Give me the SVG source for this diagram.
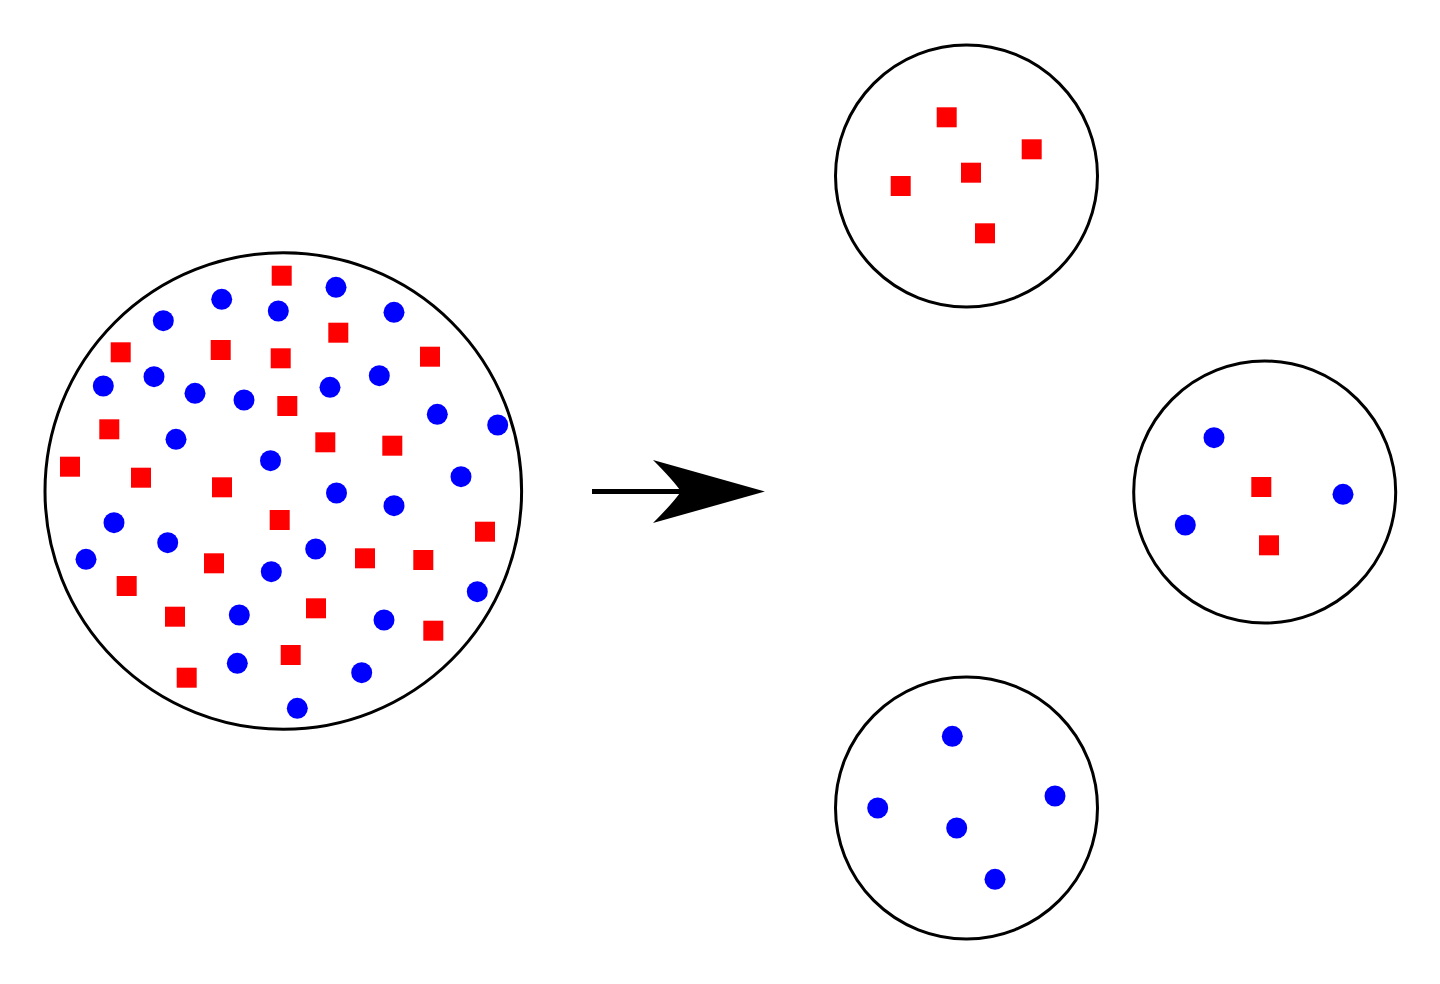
<svg xmlns="http://www.w3.org/2000/svg" width="1440" height="984" viewBox="0 0 1440 984">
<style>
.ring{fill:#fff;stroke:#000;stroke-width:3}
.sq{fill:#ff0000}
.dot{fill:#0000ff}
</style>
<defs>
<rect id="s" x="-10" y="-10" width="20" height="20" class="sq"/>
<circle id="d" r="10.5" class="dot"/>
</defs>
<rect width="1440" height="984" fill="#fff"/>
<g id="mixture">
<circle class="ring" cx="283.3" cy="491" r="238.3"/>
<use href="#s" x="281.7" y="275.7"/>
<use href="#d" x="221.7" y="299.3"/>
<use href="#d" x="278.3" y="311"/>
<use href="#d" x="163.3" y="320.7"/>
<use href="#d" x="336" y="287.3"/>
<use href="#d" x="394" y="312.3"/>
<use href="#s" x="338.3" y="332.7"/>
<use href="#s" x="120.7" y="352.3"/>
<use href="#s" x="220.7" y="350"/>
<use href="#s" x="280.7" y="358.3"/>
<use href="#s" x="430" y="356.7"/>
<use href="#d" x="103.3" y="386"/>
<use href="#d" x="154" y="376.7"/>
<use href="#d" x="195" y="393.3"/>
<use href="#d" x="244" y="400"/>
<use href="#d" x="379.3" y="375.7"/>
<use href="#d" x="330" y="387.3"/>
<use href="#s" x="287.3" y="406"/>
<use href="#d" x="437.3" y="414.3"/>
<use href="#d" x="497.7" y="425"/>
<use href="#s" x="109.3" y="429.3"/>
<use href="#d" x="176" y="439.3"/>
<use href="#s" x="325.3" y="442.3"/>
<use href="#s" x="392.3" y="445.7"/>
<use href="#d" x="270.5" y="460.7"/>
<use href="#s" x="70" y="466.7"/>
<use href="#s" x="141" y="477.7"/>
<use href="#d" x="461" y="476.7"/>
<use href="#s" x="222" y="487.3"/>
<use href="#d" x="336.5" y="493"/>
<use href="#d" x="394" y="505.7"/>
<use href="#s" x="279.7" y="520"/>
<use href="#d" x="114" y="522.7"/>
<use href="#s" x="485" y="531.7"/>
<use href="#d" x="167.7" y="542.7"/>
<use href="#d" x="315.7" y="549"/>
<use href="#d" x="86" y="559.3"/>
<use href="#s" x="214" y="563.3"/>
<use href="#s" x="365" y="558.3"/>
<use href="#s" x="423.3" y="560"/>
<use href="#d" x="271.3" y="571.7"/>
<use href="#s" x="126.7" y="586"/>
<use href="#d" x="477.3" y="591.7"/>
<use href="#s" x="316" y="608.3"/>
<use href="#s" x="175" y="616.7"/>
<use href="#d" x="239.3" y="615"/>
<use href="#d" x="384" y="620"/>
<use href="#s" x="433.3" y="630.7"/>
<use href="#s" x="290.7" y="655"/>
<use href="#d" x="237.3" y="663.3"/>
<use href="#d" x="361.7" y="672.7"/>
<use href="#s" x="186.7" y="677.7"/>
<use href="#d" x="297.3" y="708.3"/>
</g>
<g id="connectors">
<line x1="592" y1="491.5" x2="690" y2="491.5" stroke="#000" stroke-width="5"/>
<path d="M765,491.5 L653,460 Q673,480 681,491.5 Q673,503 653,523 Z" fill="#000"/>
</g>
<g id="red-group">
<circle class="ring" cx="966.5" cy="176" r="131"/>
<use href="#s" x="946.7" y="117.3"/>
<use href="#s" x="1031.7" y="149.3"/>
<use href="#s" x="971" y="172.7"/>
<use href="#s" x="900.7" y="186"/>
<use href="#s" x="985" y="233.3"/>
</g>
<g id="mixed-group">
<circle class="ring" cx="1264.7" cy="492" r="131"/>
<use href="#d" x="1214" y="437.7"/>
<use href="#s" x="1261.3" y="487"/>
<use href="#d" x="1343" y="494.3"/>
<use href="#d" x="1185.3" y="525"/>
<use href="#s" x="1269" y="545.3"/>
</g>
<g id="blue-group">
<circle class="ring" cx="966.5" cy="808" r="131"/>
<use href="#d" x="952.3" y="736.3"/>
<use href="#d" x="1055" y="796"/>
<use href="#d" x="877.7" y="808"/>
<use href="#d" x="956.7" y="828"/>
<use href="#d" x="995" y="879.3"/>
</g>
</svg>
